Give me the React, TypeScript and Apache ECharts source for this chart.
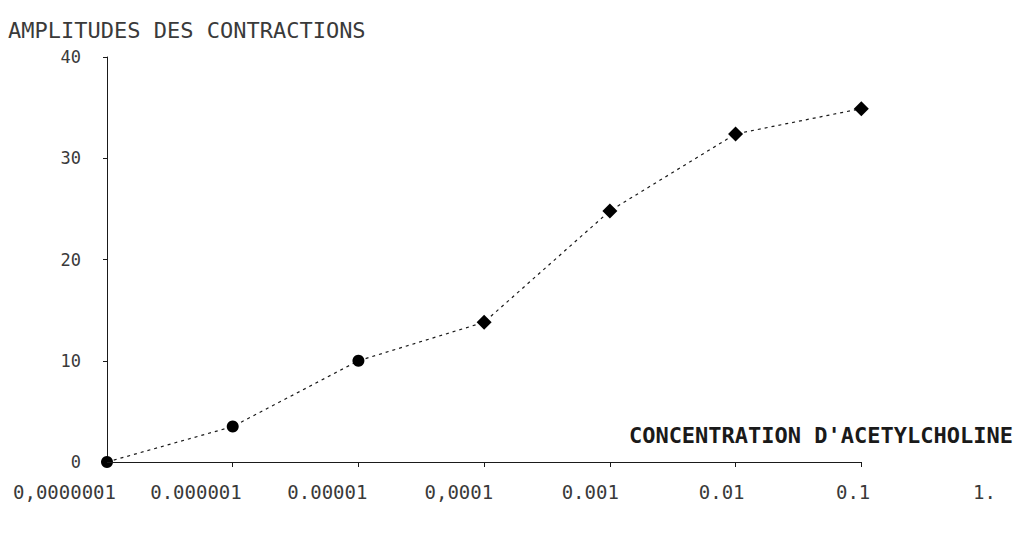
import React, { useEffect, useRef } from "react";
import * as echarts from "echarts";

const concentrations = ["0,0000001", "0.000001", "0.00001", "0,0001", "0.001", "0.01", "0.1", "1."];
const amplitudes = [0, 3.5, 10, 13.8, 24.8, 32.4, 34.9];
const markerShapes = ["circle", "circle", "circle", "diamond", "diamond", "diamond", "diamond"];
const yTicks = [0, 10, 20, 30, 40];
const yTitle = "AMPLITUDES DES CONTRACTIONS";
const xTitle = "CONCENTRATION D'ACETYLCHOLINE";

const MONO = "'DejaVu Sans Mono', monospace";
const INK = "#1a1a1a";
const TEXT = "#3a3a3a";

export default function App() {
  const ref = useRef<HTMLDivElement>(null);
  useEffect(() => {
    document.body.style.margin = "0";
    const chart = echarts.init(ref.current!, null, { renderer: "svg" });
    const idx = concentrations.map((_, i) => i);
    chart.setOption({
      animation: false,
      backgroundColor: "#ffffff",
      grid: { left: 107, right: 32, top: 57, bottom: 84 },
      xAxis: {
        type: "value",
        min: 0,
        max: concentrations.length - 1,
        interval: 1,
        axisLine: { show: false },
        splitLine: { show: false },
        axisTick: {
          show: true,
          customValues: idx.slice(0, amplitudes.length),
          length: 5,
          lineStyle: { color: INK, width: 1 },
        },
        axisLabel: {
          customValues: idx,
          formatter: (v: number) => concentrations[Math.round(v)] ?? "",
          align: "right",
          padding: [0, -9, 0, 0],
          margin: 20,
          color: TEXT,
          fontFamily: MONO,
          fontSize: 19,
        },
      },
      yAxis: {
        type: "value",
        min: 0,
        max: 40,
        interval: 10,
        axisLine: { show: true, lineStyle: { color: INK, width: 1 } },
        axisTick: { show: true, inside: false, length: 4, lineStyle: { color: INK } },
        splitLine: { show: false },
        axisLabel: {
          customValues: yTicks,
          color: TEXT,
          fontFamily: MONO,
          fontSize: 17,
          margin: 26,
        },
      },
      graphic: [
        {
          type: "text",
          left: 8,
          top: 19,
          style: { text: yTitle, fill: TEXT, font: `22px ${MONO}` },
        },
        {
          type: "text",
          right: 6,
          top: 424,
          style: { text: xTitle, fill: INK, font: `bold 22px ${MONO}` },
        },
      ],
      series: [
        {
          type: "line",
          data: amplitudes.map((v, i) => ({
            value: [i, v],
            symbol: markerShapes[i],
            symbolSize: markerShapes[i] === "circle" ? 12 : 15,
          })),
          lineStyle: { color: INK, width: 1.2, type: [3, 4] },
          itemStyle: { color: "#000" },
          markLine: {
            silent: true,
            symbol: "none",
            label: { show: false },
            lineStyle: { color: INK, width: 1.2, type: "solid" },
            data: [[{ coord: [0, 0] }, { coord: [amplitudes.length - 1, 0] }]],
          },
        },
      ],
    });
    return () => chart.dispose();
  }, []);
  return <div ref={ref} style={{ width: 1019, height: 546 }} />;
}
